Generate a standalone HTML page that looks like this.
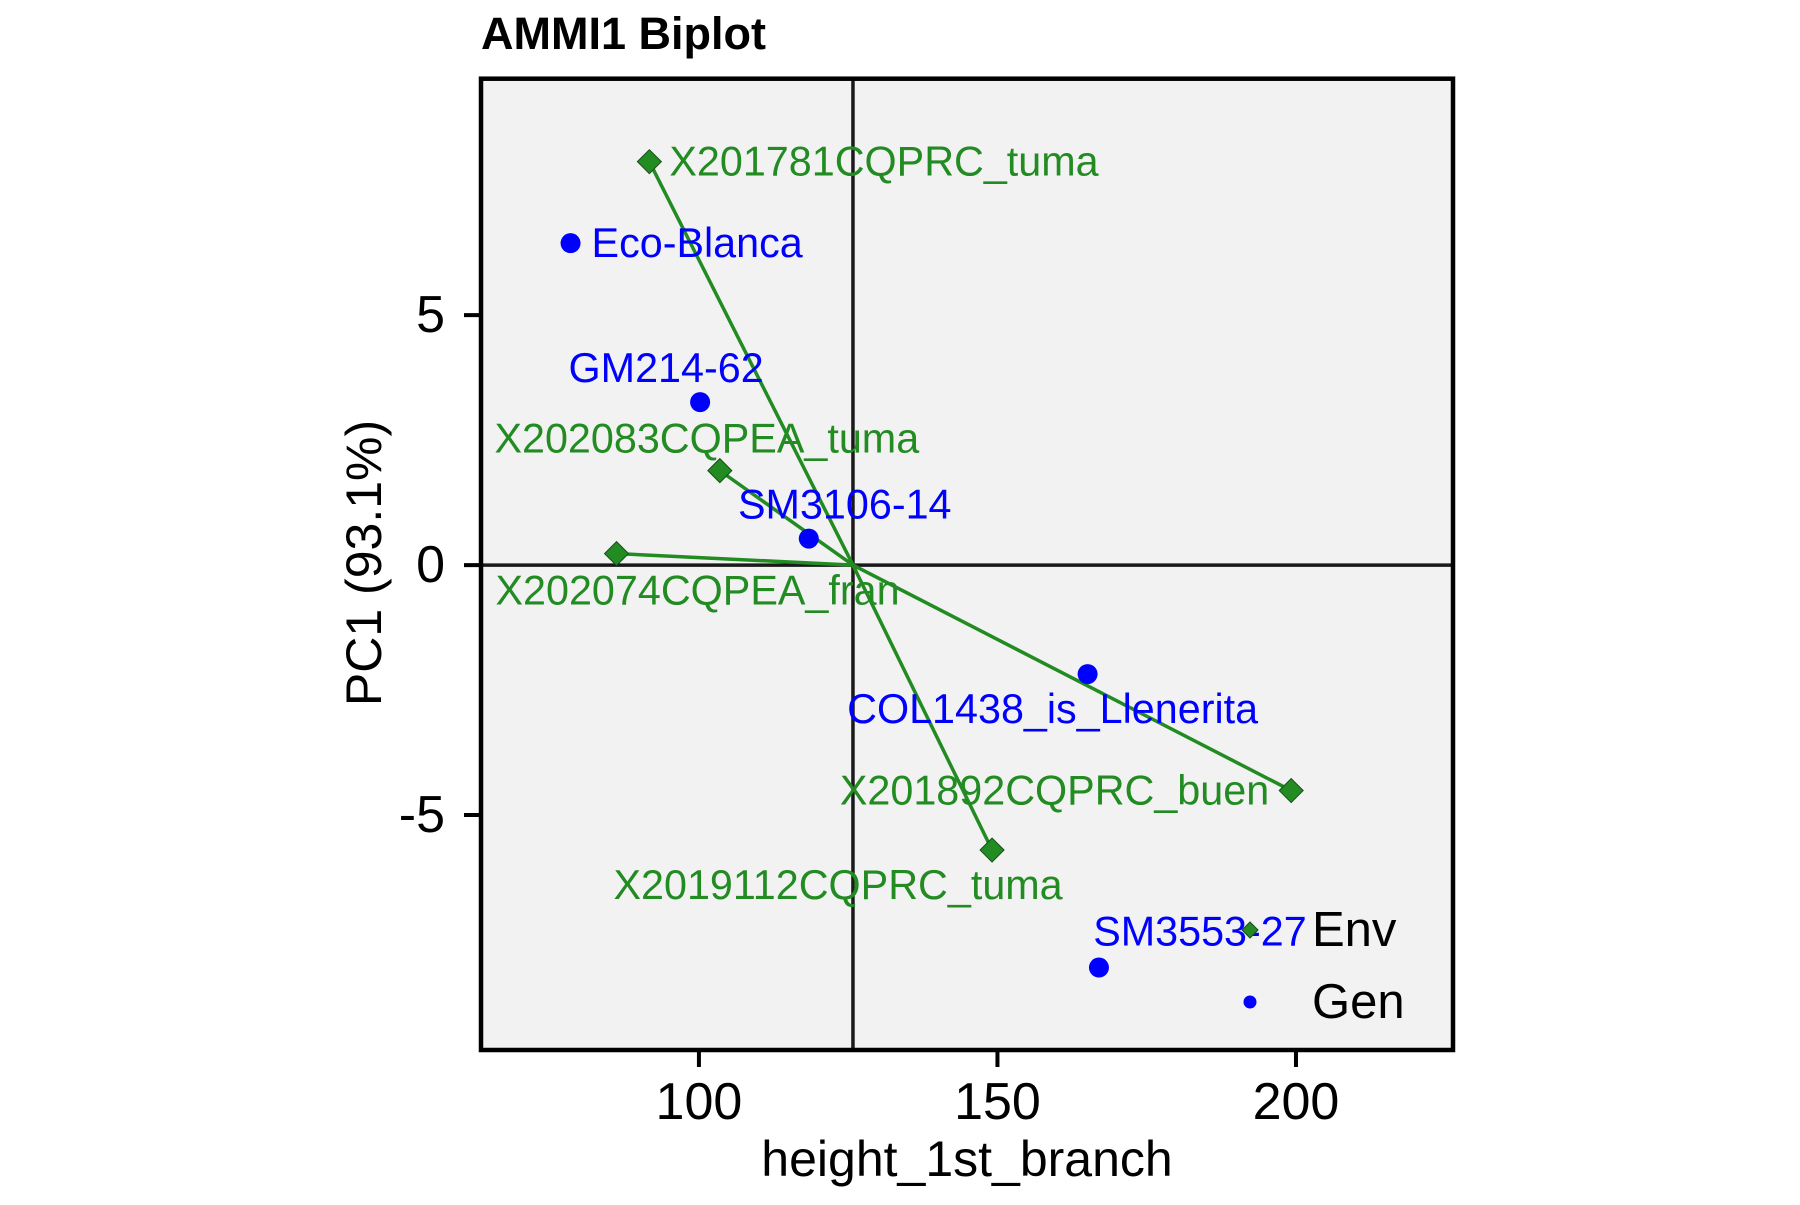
<!DOCTYPE html>
<html><head><meta charset="utf-8"><style>
html,body{margin:0;padding:0;background:#fff;}
svg text{font-family:"Liberation Sans",Arial,sans-serif;}
</style></head><body>
<svg id="chart" width="1800" height="1200" viewBox="0 0 1800 1200" xmlns="http://www.w3.org/2000/svg">
<rect width="1800" height="1200" fill="#fff"/>
<text x="481" y="49" font-size="45" font-weight="bold">AMMI1 Biplot</text>
<rect x="481" y="78.7" width="972" height="971.3" fill="#F2F2F2"/>
<g id="grid"></g>
<g id="marks"></g>
<rect x="481" y="78.7" width="972" height="971.3" fill="none" stroke="#000" stroke-width="4.5"/>
<g id="axes"></g>
<text x="967" y="1176" font-size="50" text-anchor="middle">height_1st_branch</text>
<text x="0" y="0" font-size="50" text-anchor="middle" transform="translate(381,563) rotate(-90)">PC1 (93.1%)</text>
<g>
<polygon points="1250,922 1258,930 1250,938 1242,930" fill="#228B22" stroke="#1a4d1a" stroke-width="1"/>
<text x="1312" y="930" font-size="49" dominant-baseline="central">Env</text>
<circle cx="1250" cy="1002" r="6.5" fill="#0000FF"/>
<text x="1312" y="1002" font-size="49" dominant-baseline="central">Gen</text>
</g>
</svg>
<script>
const envNames = ["X201781CQPRC_tuma","X202083CQPEA_tuma","X202074CQPEA_fran","X201892CQPRC_buen","X2019112CQPRC_tuma"];
const envX = [91.7, 103.5, 86.2, 199.2, 149.1];
const envY = [8.07, 1.89, 0.23, -4.51, -5.70];
const genNames = ["Eco-Blanca","GM214-62","SM3106-14","COL1438_is_Llenerita","SM3553-27"];
const genX = [78.5, 100.2, 118.4, 165.1, 167.0];
const genY = [6.44, 3.26, 0.53, -2.18, -8.05];
const xTicks = [100, 150, 200];
const yTicks = [5, 0, -5];
const yTickLabels = ["5", "0", "-5"];
const centerX = 125.8;
const centerY = 0;

const X0 = 481, X1 = 1453, Y0 = 78.7, Y1 = 1050;
const xMin = 63.5, xMax = 226.3, yMin = -9.7, yMax = 9.73;
function sx(v){ return X0 + (v - xMin) / (xMax - xMin) * (X1 - X0); }
function sy(v){ return Y1 - (v - yMin) / (yMax - yMin) * (Y1 - Y0); }

const NS = "http://www.w3.org/2000/svg";
function mk(tag, attrs, parent){
  const e = document.createElementNS(NS, tag);
  for (const k in attrs) e.setAttribute(k, attrs[k]);
  parent.appendChild(e);
  return e;
}
const grid = document.getElementById('grid');
const marks = document.getElementById('marks');
const axes = document.getElementById('axes');

let e = mk('line', {x1: sx(centerX), x2: sx(centerX), y1: Y0, y2: Y1, stroke: '#1a1a1a', 'stroke-width': 3.5}, grid);


e = mk('line', {x1: X0, x2: X1, y1: sy(centerY), y2: sy(centerY), stroke: '#1a1a1a', 'stroke-width': 3.5}, grid);



// label offsets (px, styling)
const envLab = [[20,0,'start'],[-13,-32,'middle'],[81,37,'middle'],[-22,0,'end'],[-154,35,'middle']];
const genLab = [[21,0,'start'],[-34,-34,'middle'],[36,-34,'middle'],[-35,35,'middle'],[101,-36,'middle']];

envNames.forEach((n, i) => {
  const l = mk('line', {x1: sx(centerX), y1: sy(centerY), x2: sx(envX[i]), y2: sy(envY[i]), stroke: '#228B22', 'stroke-width': 3.5}, marks);
  
  
});
envNames.forEach((n, i) => {
  const x = sx(envX[i]), y = sy(envY[i]), s = 12;
  const p = mk('polygon', {points: `${x},${y-s} ${x+s},${y} ${x},${y+s} ${x-s},${y}`, fill: '#228B22', stroke: '#1a4d1a', 'stroke-width': 1}, marks);
  
  
});
genNames.forEach((n, i) => {
  const c = mk('circle', {cx: sx(genX[i]), cy: sy(genY[i]), r: 10, fill: '#0000FF'}, marks);
  
  
});
envNames.forEach((n, i) => {
  const t = mk('text', {x: sx(envX[i]) + envLab[i][0], y: sy(envY[i]) + envLab[i][1], 'font-size': 41.3, fill: '#228B22', 'text-anchor': envLab[i][2], 'dominant-baseline': 'central'}, marks);
  t.textContent = n;
  
  
});
genNames.forEach((n, i) => {
  const t = mk('text', {x: sx(genX[i]) + genLab[i][0], y: sy(genY[i]) + genLab[i][1], 'font-size': 41.3, fill: '#0000FF', 'text-anchor': genLab[i][2], 'dominant-baseline': 'central'}, marks);
  t.textContent = n;
  
  
});
xTicks.forEach((v, i) => {
  const l = mk('line', {x1: sx(v), x2: sx(v), y1: Y1, y2: Y1 + 17, stroke: '#000', 'stroke-width': 4}, axes);
  
  
  const t = mk('text', {x: sx(v), y: 1119, 'font-size': 52, 'text-anchor': 'middle'}, axes);
  t.textContent = String(v);
  
  
});
yTicks.forEach((v, i) => {
  const l = mk('line', {x1: X0 - 17, x2: X0, y1: sy(v), y2: sy(v), stroke: '#000', 'stroke-width': 4}, axes);
  
  
  const t = mk('text', {x: 445, y: sy(v), 'font-size': 52, 'text-anchor': 'end', 'dominant-baseline': 'central'}, axes);
  t.textContent = yTickLabels[i];
  
  
});
</script>
</body></html>
